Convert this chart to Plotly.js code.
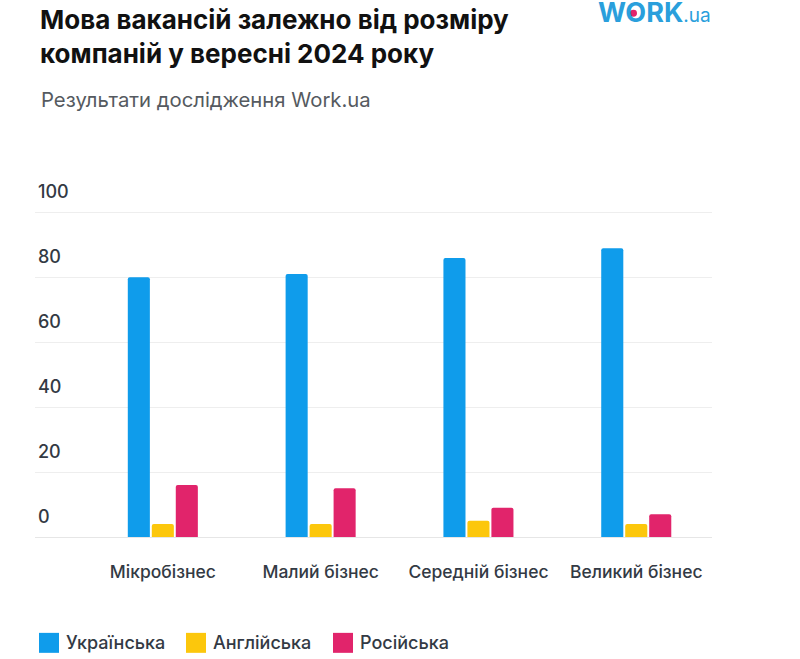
<!DOCTYPE html>
<html>
<head>
<meta charset="utf-8">
<script src="https://cdn.plot.ly/plotly-3.0.1.min.js"></script>
<style>html,body{margin:0;padding:0;background:#fff;}#chart{width:800px;height:659px;}</style>
</head>
<body>
<div id="chart"></div>
<script>
const categories = ["Мікробізнес", "Малий бізнес", "Середній бізнес", "Великий бізнес"];
const seriesNames = ["Українська", "Англійська", "Російська"];
const ukrainian = [80, 81, 86, 89];
const english = [4, 4, 5, 4];
const russian = [16, 15, 9, 7];
const yTickVals = [0, 20, 40, 60, 80, 100];
const yTickText = ["0", "20", "40", "60", "80", "100"];
const colors = ["#0f9ceb", "#fcc70c", "#e1246b"];

const FONT = "Inter, 'Open Sans', sans-serif";
const values = [ukrainian, english, russian];
const traces = values.map((v, i) => ({
  type: "bar",
  name: seriesNames[i],
  x: categories,
  y: v,
  marker: {color: colors[i], line: {width: 0}},
  showlegend: false,
  hoverinfo: "x+y+name"
}));

const W = 800, H = 659, ML = 35, MR = 88, MB = 122;
const Y0PX = H - MB;          // pixel of value 0
const PXPERUNIT = 3.25;       // pixels per unit on y
const YMAX = 110;             // headroom so the "100" label stays inside
const ph = YMAX * PXPERUNIT;
const MT = H - MB - ph;
const pw = W - ML - MR;
const py = px => (Y0PX - px) / ph;   // pixel y -> paper y
const pxx = px => (px - ML) / pw;    // pixel x -> paper x

// manual legend (large square swatches like the reference)
const legendX = [39, 186, 333];
const legendShapes = seriesNames.map((n, i) => ({
  type: "rect", xref: "paper", yref: "paper",
  x0: pxx(legendX[i]), x1: pxx(legendX[i] + 20),
  y0: py(653), y1: py(633),
  fillcolor: colors[i], line: {width: 0}, layer: "above"
}));
const legendAnn = seriesNames.map((n, i) => ({
  text: n, xref: "paper", yref: "paper",
  x: pxx(legendX[i] + 25), xanchor: "left",
  y: py(643), yanchor: "middle",
  showarrow: false,
  font: {family: FONT, size: 18, weight: 500, color: "#333a44"}
}));

const layout = {
  width: W, height: H,
  margin: {l: ML, r: MR, t: MT, b: MB, pad: 0, autoexpand: false},
  paper_bgcolor: "#ffffff",
  plot_bgcolor: "#ffffff",
  font: {family: FONT, color: "#333a44", size: 17},
  title: {
    text: "<b>Мова вакансій залежно від розміру<br>компаній у вересні 2024 року</b>",
    font: {family: FONT, size: 26, color: "#111111"},
    xref: "container", yref: "container",
    x: 40 / W, xanchor: "left",
    y: 1 - 29 / H, yanchor: "top"
  },
  barmode: "group",
  bargap: 0.544,
  bargroupgap: 0.08,
  barcornerradius: 2,
  xaxis: {
    type: "category",
    range: [-0.81, 3.48],
    showgrid: false,
    zeroline: false,
    showline: false,
    ticks: "",
    automargin: false,
    ticklabelstandoff: 22,
    tickfont: {family: FONT, size: 17.5, weight: 500, color: "#333a44"},
    fixedrange: true
  },
  yaxis: {
    range: [0, YMAX],
    tickvals: yTickVals,
    ticktext: yTickText,
    ticklabelposition: "inside top",
    ticklabelshift: -8,
    automargin: false,
    showgrid: true,
    gridcolor: "#eeeeee",
    gridwidth: 1,
    zeroline: true,
    zerolinecolor: "#e6e6e6",
    showline: false,
    ticks: "",
    tickfont: {family: FONT, size: 18, weight: 500, color: "#333a44"},
    fixedrange: true
  },
  showlegend: false,
  annotations: [
    {
      text: "Результати дослідження Work.ua",
      xref: "paper", yref: "paper",
      x: pxx(39), xanchor: "left",
      y: py(99), yanchor: "middle",
      showarrow: false,
      font: {family: FONT, size: 20.3, color: "#555a60"}
    },
    {
      text: "<b>WORK</b><span style='font-size:19px'>.ua</span>",
      xref: "paper", yref: "paper",
      x: pxx(712), xanchor: "right",
      y: py(12), yanchor: "middle",
      borderpad: 0,
      showarrow: false,
      font: {family: FONT, size: 27, color: "#2a9fdc"}
    }
  ].concat(legendAnn),
  shapes: [
    {
      type: "circle", xref: "paper", yref: "paper",
      x0: pxx(630), x1: pxx(637), y0: py(16), y1: py(9),
      fillcolor: "#e1246b", line: {width: 0}, layer: "above"
    }
  ].concat(legendShapes)
};

Plotly.newPlot("chart", traces, layout, {displayModeBar: false});
</script>
</body>
</html>
